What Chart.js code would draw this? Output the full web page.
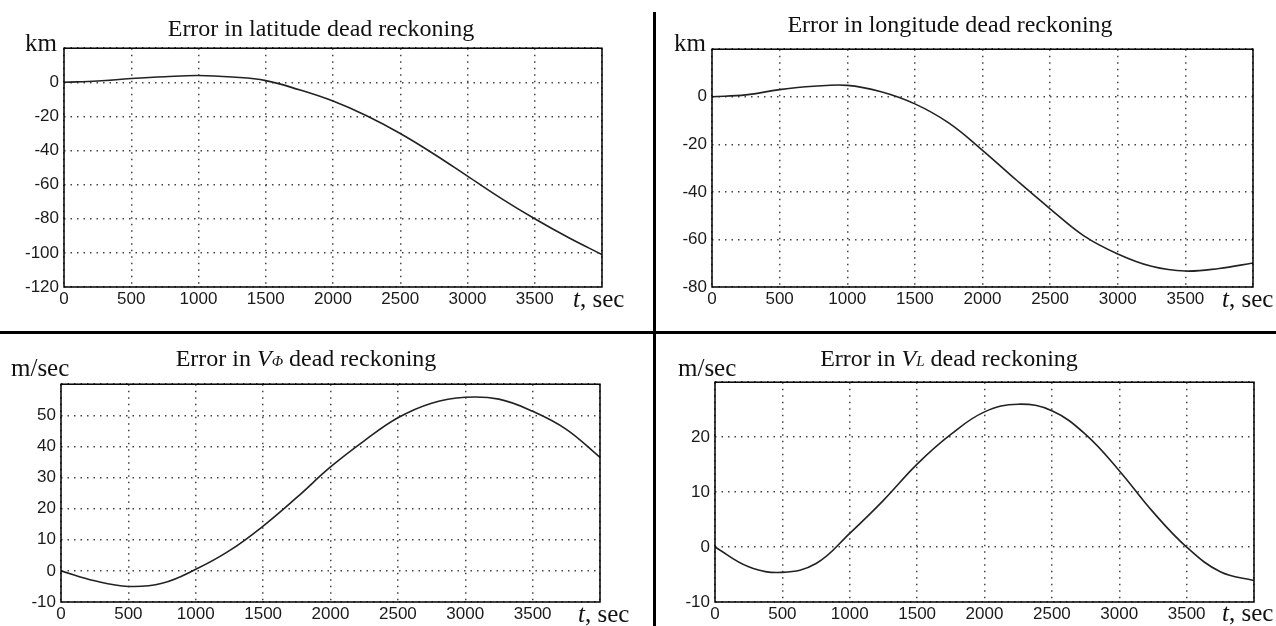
<!DOCTYPE html>
<html>
<head>
<meta charset="utf-8">
<script src="https://cdn.jsdelivr.net/npm/chart.js@4.4.1/dist/chart.umd.min.js"></script>
<style>
  body { margin: 0; background: #fff; width: 1276px; height: 626px; overflow: hidden; position: relative;
         font-family: "Liberation Serif", "Times New Roman", serif; color: #111; }
  canvas { position: absolute; }
  .txt { position: absolute; font-size: 24px; line-height: 1; white-space: nowrap; transform: translate(-50%, -50%); }
  .unit { position: absolute; font-size: 25px; line-height: 1; white-space: nowrap; transform: translateY(-50%); }
  .sep { position: absolute; background: #000; }
  .sub { font-size: 15px; font-style: italic; }
</style>
</head>
<body>
<div class="sep" style="left:653px;top:12px;width:3px;height:614px"></div>
<div class="sep" style="left:0;top:331px;width:1276px;height:3px"></div>

<canvas id="lat"></canvas>
<canvas id="lon"></canvas>
<canvas id="vphi"></canvas>
<canvas id="vl"></canvas>

<div class="txt" style="left:321px;top:28px">Error in latitude dead reckoning</div>
<div class="txt" style="left:950px;top:24px">Error in longitude dead reckoning</div>
<div class="txt" style="left:306px;top:358px">Error in <i>V</i><span class="sub">Φ</span> dead reckoning</div>
<div class="txt" style="left:949px;top:358px">Error in <i>V</i><span class="sub">L</span> dead reckoning</div>

<div class="unit" style="left:25px;top:42px">km</div>
<div class="unit" style="left:674px;top:42px">km</div>
<div class="unit" style="left:11px;top:367px">m/sec</div>
<div class="unit" style="left:678px;top:367px">m/sec</div>

<div class="unit" style="left:573px;top:298px"><i>t</i>, sec</div>
<div class="unit" style="left:1222px;top:298px"><i>t</i>, sec</div>
<div class="unit" style="left:578px;top:613px"><i>t</i>, sec</div>
<div class="unit" style="left:1222px;top:612px"><i>t</i>, sec</div>

<script>
// time axis (sec)
const timeSec = [0, 250, 500, 750, 1000, 1250, 1500, 1750, 2000, 2250, 2500, 2750, 3000, 3250, 3500, 3750, 4000];
const timeTicks = [0, 500, 1000, 1500, 2000, 2500, 3000, 3500, 4000];

// errors
const latErrKm = [0, 0.8, 2.2, 3.3, 4, 3.1, 1, -4.4, -11, -19.6, -30, -42, -55, -68, -80, -91, -101];
const lonErrKm = [0, 0.8, 3, 4.4, 4.8, 2.1, -3, -11, -22.5, -35, -47.1, -58.5, -66.1, -71.3, -73.3, -72.2, -69.9];
const vPhiErr = [0, -3.2, -5, -4, 0.5, 6.5, 14.4, 23.6, 33.4, 41.8, 49.2, 53.9, 55.8, 55.2, 51.3, 45.5, 36.5];
const vLErr = [0, -3.6, -4.6, -3, 2.5, 8.5, 15.1, 20.5, 24.6, 26, 24.8, 20.5, 13.9, 6.4, 0, -4.5, -6.1];

const latTicks = [-120, -100, -80, -60, -40, -20, 0, 20];
const lonTicks = [-80, -60, -40, -20, 0, 20];
const vPhiTicks = [-10, 0, 10, 20, 30, 40, 50, 60];
const vLTicks = [-10, 0, 10, 20, 30];

const Y_W = 50, X_H = 26, PAD_T = 12, PAD_R = 12;

// box around plot area
const framePlugin = {
  id: "frame",
  afterDraw(chart) {
    const { ctx, chartArea: a } = chart;
    ctx.save();
    ctx.strokeStyle = "#000";
    ctx.lineWidth = 1.5;
    ctx.strokeRect(a.left, a.top, a.right - a.left, a.bottom - a.top);
    ctx.restore();
  },
};

function makePanel(id, box, values, yTicks) {
  const cv = document.getElementById(id);
  const [l, t, r, b] = box;
  const w = r - l + Y_W + PAD_R;
  const h = b - t + PAD_T + X_H;
  cv.width = w; cv.height = h;
  cv.style.left = (l - Y_W) + "px";
  cv.style.top = (t - PAD_T) + "px";
  cv.style.width = w + "px"; cv.style.height = h + "px";

  const yMin = yTicks[0], yMax = yTicks[yTicks.length - 1];
  const tickFont = { family: "Liberation Sans", size: 17 };
  const grid = { color: "#444", lineWidth: 1.5, drawTicks: false };
  const border = { display: false, dash: [1.5, 5] };

  new Chart(cv.getContext("2d"), {
    type: "line",
    data: {
      datasets: [{
        data: timeSec.map((x, i) => ({ x, y: values[i] })),
        borderColor: "#222",
        borderWidth: 1.6,
        pointRadius: 0,
        tension: 0.4,
        fill: false,
      }],
    },
    options: {
      responsive: false,
      animation: false,
      layout: { padding: { top: PAD_T, right: PAD_R, left: 0, bottom: 0 } },
      plugins: { legend: { display: false }, tooltip: { enabled: false } },
      scales: {
        x: {
          type: "linear",
          min: 0, max: 4000,
          afterBuildTicks: (s) => { s.ticks = timeTicks.map((v) => ({ value: v })); },
          afterFit: (s) => { s.height = X_H; },
          grid, border,
          ticks: {
            autoSkip: false, maxRotation: 0, padding: 2, color: "#1a1a1a", font: tickFont,
            callback: (v) => (v === 4000 ? "" : v),
          },
        },
        y: {
          min: yMin, max: yMax,
          afterBuildTicks: (s) => { s.ticks = yTicks.map((v) => ({ value: v })); },
          afterFit: (s) => { s.width = Y_W; },
          grid, border,
          ticks: {
            autoSkip: false, padding: 5, color: "#1a1a1a", font: tickFont,
            callback: (v) => (v === yMax ? "" : v),
          },
        },
      },
    },
    plugins: [framePlugin],
  });
}

makePanel("lat", [64, 45, 602, 287], latErrKm, latTicks);
makePanel("lon", [712, 46, 1253, 287], lonErrKm, lonTicks);
makePanel("vphi", [61, 381, 600, 602], vPhiErr, vPhiTicks);
makePanel("vl", [715, 379, 1254, 602], vLErr, vLTicks);
</script>
</body>
</html>
